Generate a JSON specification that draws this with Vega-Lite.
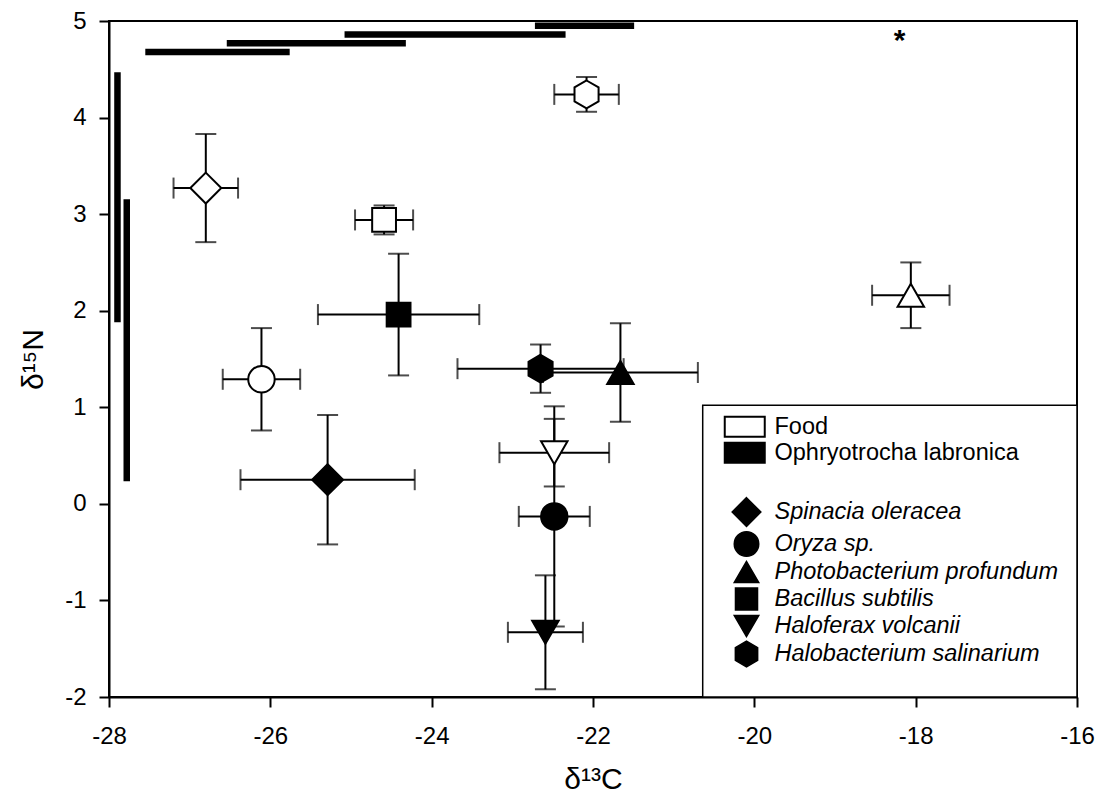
{
  "$schema": "https://vega.github.io/schema/vega-lite/v6.json",
  "width": 968,
  "height": 676,
  "autosize": "none",
  "padding": {"left": 109, "top": 21, "right": 22, "bottom": 102},
  "background": "white",
  "config": {
    "font": "Liberation Sans",
    "view": {"stroke": "black", "strokeWidth": 2},
    "axis": {
      "grid": false,
      "domainColor": "black",
      "domainWidth": 2,
      "tickColor": "black",
      "tickWidth": 2,
      "tickSize": 10,
      "labelColor": "black",
      "labelFontSize": 24,
      "labelFlush": false,
      "labelOverlap": false,
      "titleColor": "black",
      "titleFontSize": 30,
      "titleFontWeight": "normal"
    },
    "legend": {"labelColor": "black", "labelFont": "Liberation Sans", "labelLimit": 500}
  },
  "datasets": {
    "isotopes": [
      {"group": "Food", "diet": "Spinacia oleracea", "d13C": -26.80, "sdC": 0.40, "d15N": 3.27, "sdN": 0.56},
      {"group": "Food", "diet": "Oryza sp.", "d13C": -26.11, "sdC": 0.48, "d15N": 1.29, "sdN": 0.53},
      {"group": "Food", "diet": "Photobacterium profundum", "d13C": -18.06, "sdC": 0.48, "d15N": 2.16, "sdN": 0.34},
      {"group": "Food", "diet": "Bacillus subtilis", "d13C": -24.59, "sdC": 0.36, "d15N": 2.94, "sdN": 0.15},
      {"group": "Food", "diet": "Haloferax volcanii", "d13C": -22.48, "sdC": 0.68, "d15N": 0.53, "sdN": 0.35},
      {"group": "Food", "diet": "Halobacterium salinarium", "d13C": -22.08, "sdC": 0.40, "d15N": 4.24, "sdN": 0.18},
      {"group": "Ophryotrocha labronica", "diet": "Spinacia oleracea", "d13C": -25.29, "sdC": 1.08, "d15N": 0.25, "sdN": 0.67},
      {"group": "Ophryotrocha labronica", "diet": "Oryza sp.", "d13C": -22.48, "sdC": 0.44, "d15N": -0.13, "sdN": 1.14},
      {"group": "Ophryotrocha labronica", "diet": "Photobacterium profundum", "d13C": -21.66, "sdC": 0.96, "d15N": 1.36, "sdN": 0.51},
      {"group": "Ophryotrocha labronica", "diet": "Bacillus subtilis", "d13C": -24.41, "sdC": 1.00, "d15N": 1.96, "sdN": 0.63},
      {"group": "Ophryotrocha labronica", "diet": "Haloferax volcanii", "d13C": -22.59, "sdC": 0.465, "d15N": -1.33, "sdN": 0.59},
      {"group": "Ophryotrocha labronica", "diet": "Halobacterium salinarium", "d13C": -22.65, "sdC": 1.03, "d15N": 1.40, "sdN": 0.25}
    ],
    "carbonGroups": [
      {"n": 4.68, "cFrom": -27.55, "cTo": -25.76},
      {"n": 4.77, "cFrom": -26.54, "cTo": -24.32},
      {"n": 4.86, "cFrom": -25.08, "cTo": -22.34},
      {"n": 4.95, "cFrom": -22.72, "cTo": -21.49}
    ],
    "nitrogenGroups": [
      {"c": -27.895, "nFrom": 1.88, "nTo": 4.47},
      {"c": -27.78, "nFrom": 0.235, "nTo": 3.155}
    ],
    "notes": [
      {"c": -18.2, "n": 4.7, "label": "*"}
    ]
  },
  "layer": [
    {
      "data": {"values": [{}]},
      "mark": {"type": "rect", "fill": "white", "stroke": "black", "strokeWidth": 1.5},
      "encoding": {
        "x": {"datum": -20.64, "type": "quantitative", "scale": {"domain": [-28, -16], "nice": false, "zero": false}, "title": "δ¹³C"},
        "x2": {"datum": -16},
        "y": {"datum": 1.02, "type": "quantitative", "scale": {"domain": [-2, 5], "nice": false, "zero": false}, "title": "δ¹⁵N"},
        "y2": {"datum": -2}
      }
    },
    {
      "data": {"name": "carbonGroups"},
      "mark": {"type": "rule", "color": "black", "strokeWidth": 6.5, "strokeCap": "butt"},
      "encoding": {
        "x": {"field": "cFrom", "type": "quantitative", "title": "δ¹³C"},
        "x2": {"field": "cTo"},
        "y": {"field": "n", "type": "quantitative", "title": "δ¹⁵N"}
      }
    },
    {
      "data": {"name": "nitrogenGroups"},
      "mark": {"type": "rule", "color": "black", "strokeWidth": 6.5, "strokeCap": "butt"},
      "encoding": {
        "x": {"field": "c", "type": "quantitative", "title": "δ¹³C"},
        "y": {"field": "nFrom", "type": "quantitative", "title": "δ¹⁵N"},
        "y2": {"field": "nTo"}
      }
    },
    {
      "data": {"name": "isotopes"},
      "mark": {"type": "errorbar", "color": "black", "thickness": 2, "rule": {"strokeWidth": 2}, "ticks": {"size": 21, "thickness": 2, "color": "black"}},
      "encoding": {
        "x": {"field": "d13C", "type": "quantitative", "title": "δ¹³C"},
        "y": {"field": "d15N", "type": "quantitative", "title": "δ¹⁵N"},
        "yError": {"field": "sdN"}
      }
    },
    {
      "data": {"name": "isotopes"},
      "mark": {"type": "errorbar", "color": "black", "thickness": 2, "rule": {"strokeWidth": 2}, "ticks": {"size": 21, "thickness": 2, "color": "black"}},
      "encoding": {
        "y": {"field": "d15N", "type": "quantitative", "title": "δ¹⁵N"},
        "x": {"field": "d13C", "type": "quantitative", "title": "δ¹³C"},
        "xError": {"field": "sdC"}
      }
    },
    {
      "data": {"name": "isotopes"},
      "mark": {"type": "point", "filled": true, "stroke": "black", "strokeWidth": 2, "opacity": 1, "size": 700},
      "encoding": {
        "x": {
          "field": "d13C", "type": "quantitative", "title": "δ¹³C",
          "axis": {"values": [-28, -26, -24, -22, -20, -18, -16], "labelExpr": "'' + datum.value", "labelFontSize": 24, "labelPadding": 17, "titlePadding": 16, "titleFontSize": 30}
        },
        "y": {
          "field": "d15N", "type": "quantitative", "title": "δ¹⁵N",
          "axis": {"values": [-2, -1, 0, 1, 2, 3, 4, 5], "labelExpr": "'' + datum.value", "labelFontSize": 24, "labelPadding": 13, "titlePadding": 16, "titleFontSize": 30}
        },
        "fill": {
          "field": "group", "type": "nominal",
          "scale": {"domain": ["Food", "Ophryotrocha labronica"], "range": ["white", "black"]},
          "legend": {
            "title": null,
            "orient": "none",
            "legendX": 624,
            "legendY": 394,
            "padding": 0,
            "symbolType": "M-2,-1H2V1H-2Z",
            "symbolSize": 400,
            "symbolStrokeColor": "black",
            "symbolStrokeWidth": 2,
            "labelFontSize": 23.5,
            "labelOffset": 18,
            "labelLimit": 500,
            "rowPadding": -3.5,
            "encode": {
              "symbols": {"update": {"stroke": {"value": "black"}, "strokeWidth": {"value": 2}, "opacity": {"value": 1}}},
              "labels": {"update": {"fontStyle": {"signal": "datum.label === 'Food' ? 'normal' : 'italic'"}}}
            }
          }
        },
        "shape": {
          "field": "diet", "type": "nominal",
          "scale": {
            "domain": ["Spinacia oleracea", "Oryza sp.", "Photobacterium profundum", "Bacillus subtilis", "Haloferax volcanii", "Halobacterium salinarium"],
            "range": [
              "M0,-1.17L1.17,0L0,1.17L-1.17,0Z",
              "circle",
              "triangle-up",
              "M-0.9,-0.9H0.9V0.9H-0.9Z",
              "triangle-down",
              "M0,-1.05L0.91,-0.525L0.91,0.525L0,1.05L-0.91,0.525L-0.91,-0.525Z"
            ]
          },
          "legend": {
            "title": null,
            "orient": "none",
            "legendX": 624.5,
            "legendY": 478,
            "padding": 0,
            "symbolSize": 600,
            "labelFontSize": 23.5,
            "labelFontStyle": "italic",
            "labelOffset": 15,
            "labelLimit": 500,
            "gridAlign": "none",
            "rowPadding": -2,
            "encode": {
              "symbols": {"update": {"fill": {"value": "black"}, "stroke": {"value": "black"}, "strokeWidth": {"value": 0}, "opacity": {"value": 1}}}
            }
          }
        }
      }
    },
    {
      "data": {"name": "notes"},
      "mark": {"type": "text", "fontSize": 30, "fontWeight": "bold", "color": "black", "baseline": "alphabetic", "align": "center"},
      "encoding": {
        "x": {"field": "c", "type": "quantitative", "title": "δ¹³C"},
        "y": {"field": "n", "type": "quantitative", "title": "δ¹⁵N"},
        "text": {"field": "label"}
      }
    }
  ]
}
